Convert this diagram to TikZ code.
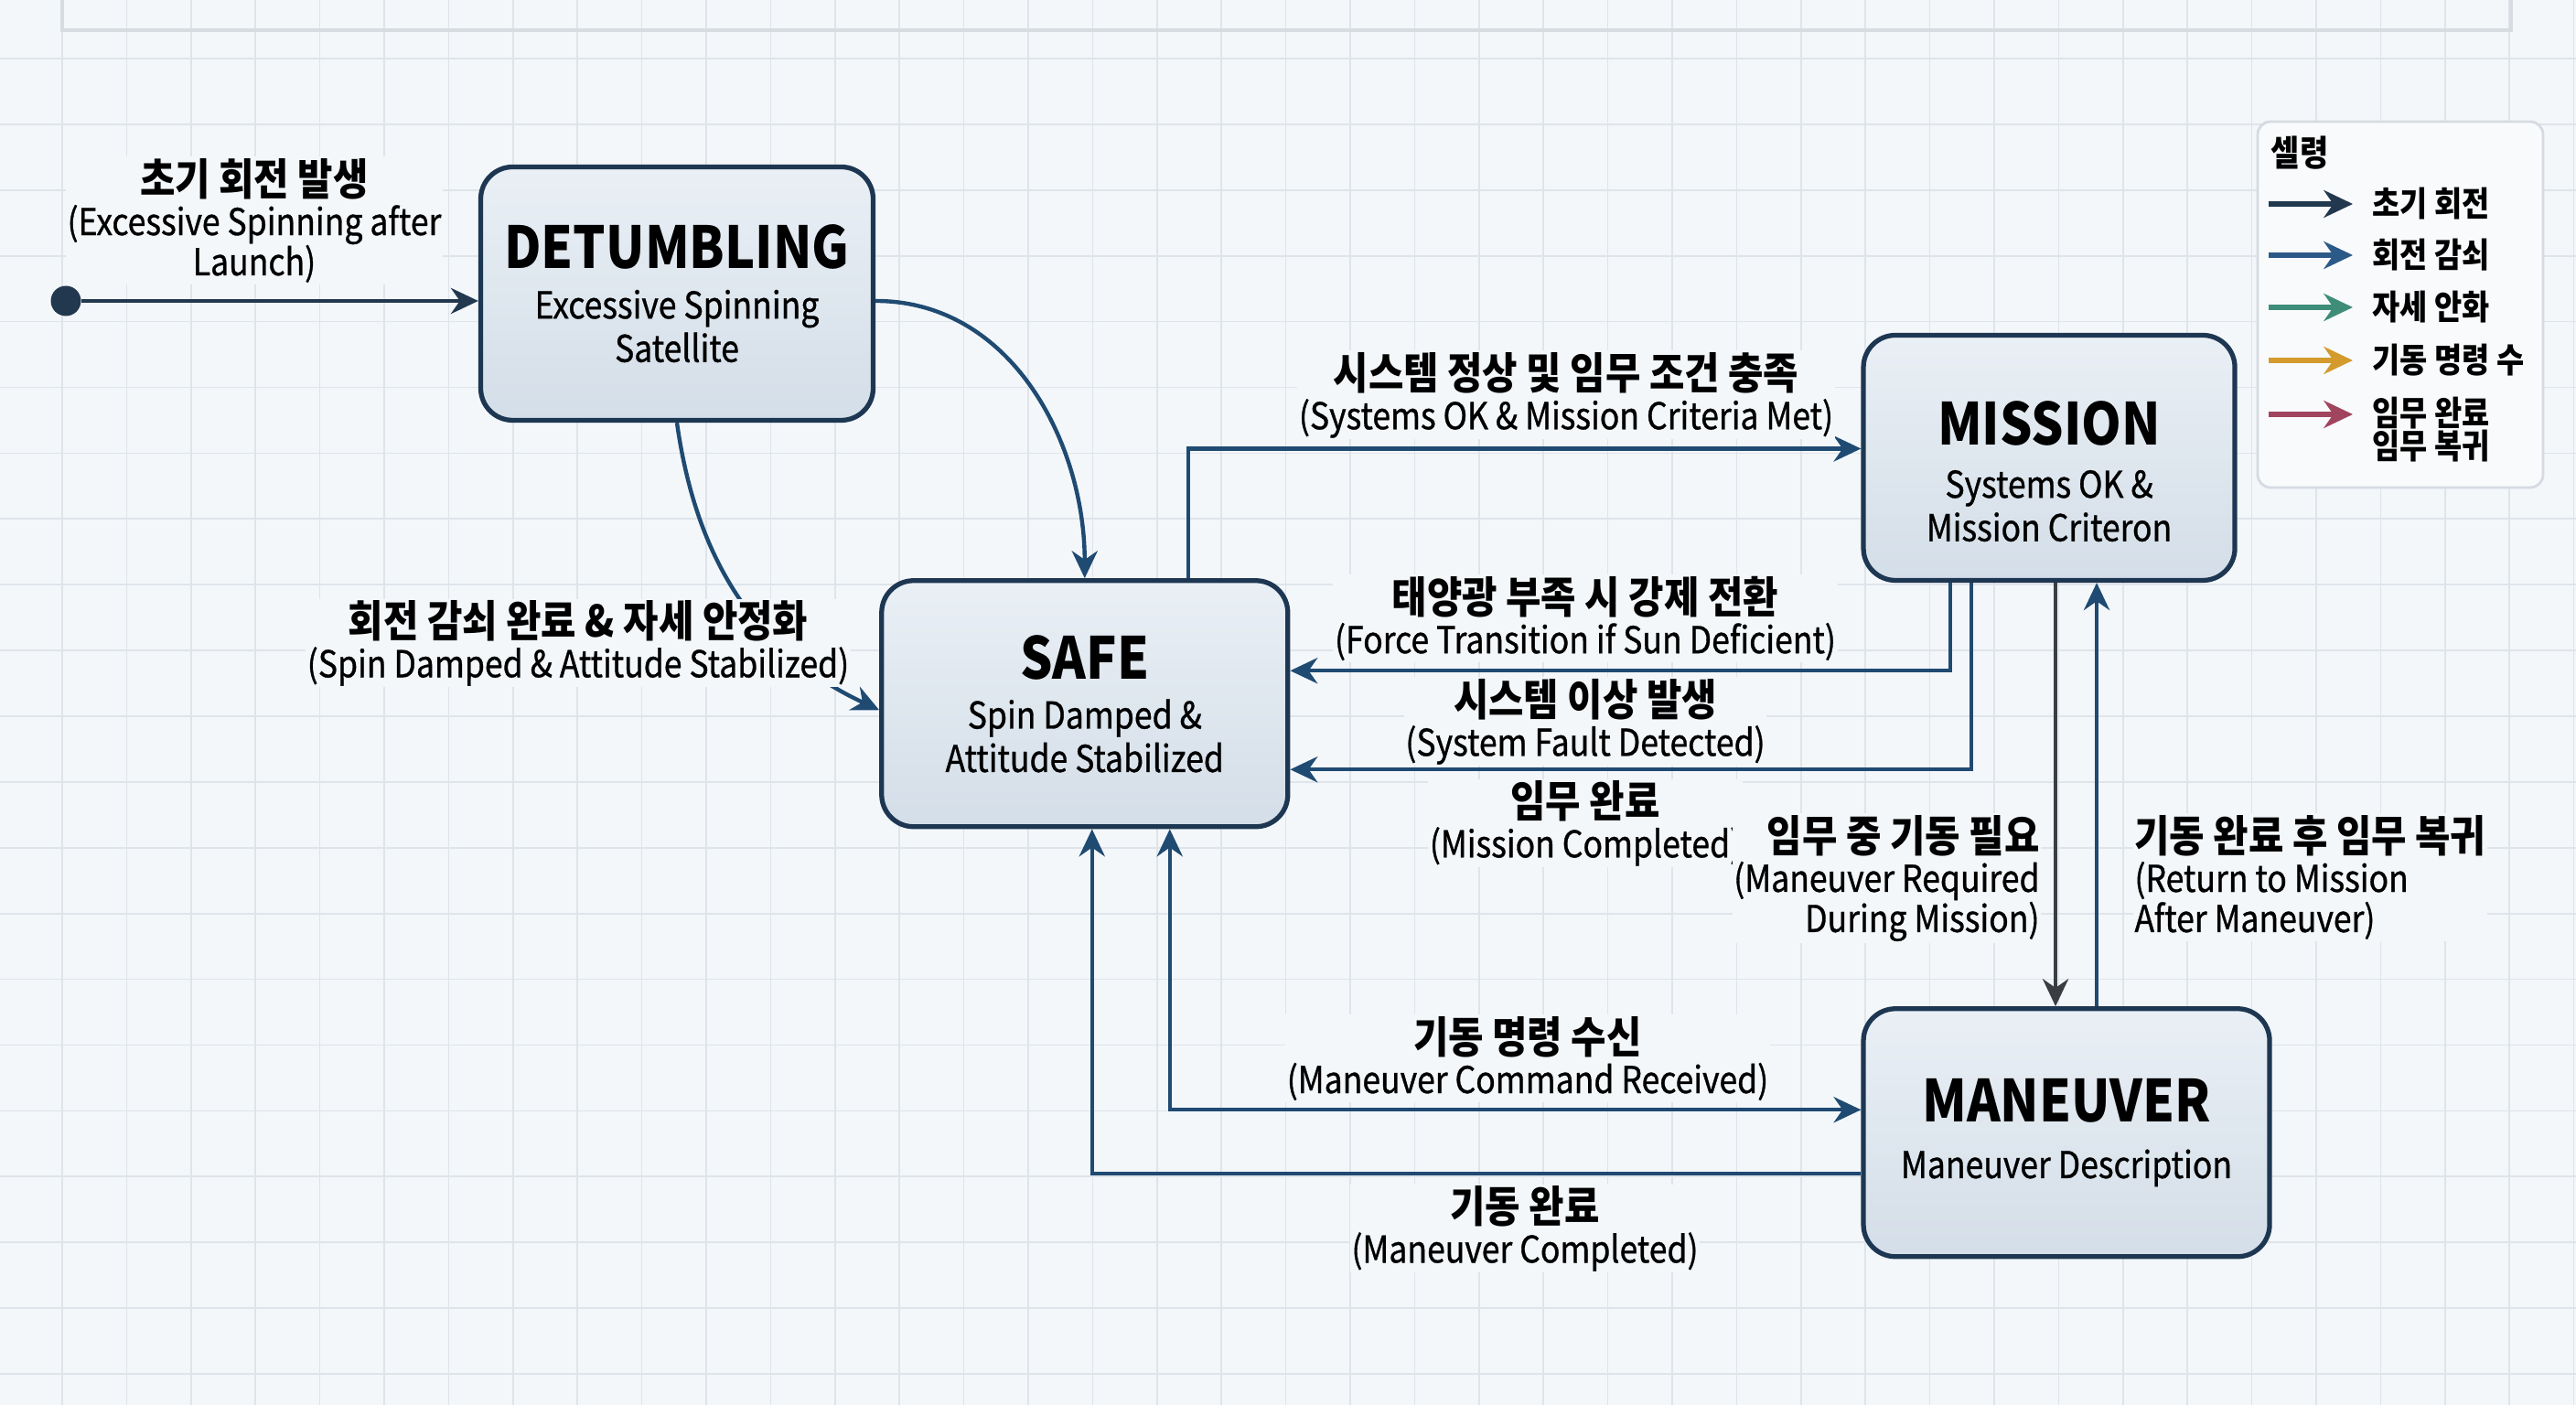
\documentclass[tikz,border=0pt]{standalone}
\usepackage{fontspec}
\setmainfont{Noto Sans CJK KR}[FakeStretch=0.88, UprightFeatures={FakeBold=0.8}]
\usepackage{tikz}
\usetikzlibrary{arrows.meta,positioning,calc}

\definecolor{paper}{HTML}{F3F7FA}
\definecolor{gridc}{HTML}{DFE4EA}
\definecolor{boxline}{HTML}{1D3752}
\definecolor{boxtop}{HTML}{E9EFF5}
\definecolor{boxbot}{HTML}{D4DEE8}
\definecolor{flowblue}{HTML}{1F4A72}
\definecolor{initnavy}{HTML}{22384F}
\definecolor{flowgray}{HTML}{3A3D42}
\definecolor{legblue}{HTML}{2C5A88}
\definecolor{legteal}{HTML}{3E8D78}
\definecolor{legamber}{HTML}{D39A2C}
\definecolor{legrose}{HTML}{A1455F}
\definecolor{legframe}{HTML}{D6DBE2}

\newcommand{\modename}[1]{{\fontsize{18}{20}\selectfont\bfseries #1}}
\newcommand{\krline}[1]{{\fontsize{13.5}{15}\selectfont\bfseries #1}}

\begin{document}
\begin{tikzpicture}[
    node distance=1cm and 1cm,
    modebox/.style={draw=boxline, rectangle, rounded corners=0.35cm, top color=boxtop, bottom color=boxbot, line width=1.5pt, inner sep=2pt, align=center, font=\fontsize{11.5}{13.5}\selectfont},
    lbl/.style={fill=paper, inner sep=0.5pt, align=center, font=\fontsize{11.5}{12.5}\selectfont},
    initdot/.style={circle, fill=initnavy, minimum size=0.33cm, inner sep=0pt},
    flow/.style={->, >={Stealth[length=8.5pt,width=8pt]}, line width=1.25pt, color=flowblue},
    legbox/.style={draw=legframe, rectangle, rounded corners=4pt, fill=paper!60!white, line width=0.8pt},
    legtxt/.style={inner sep=0pt, align=left, font=\fontsize{10.6}{10.2}\selectfont\bfseries},
    legarrow/.style={->, >={Stealth[length=9pt,width=8.5pt]}, line width=1.5pt}
]

% paper and grid
\useasboundingbox (0,0) rectangle (28.16,15.36);
\fill[paper] (0,0) rectangle (28.16,15.36);
\begin{scope}[shift={(-0.024,0.34)}]
  \draw[gridc, line width=0.5pt, xstep=0.704cm, ystep=0.719cm] (0,-0.5) grid (28.3,15.1);
\end{scope}
\draw[gridc!92!gray, line width=0.9pt] (0.68,15.36) -- (0.68,15.03) -- (27.45,15.03) -- (27.45,15.36);

% modes
\node[modebox, minimum width=4.29cm, minimum height=2.77cm] (det) at (7.40,12.15) {
    \modename{DETUMBLING}\\[2pt]
    Excessive Spinning\\
    Satellite
};
\node[modebox, minimum width=4.44cm, minimum height=2.69cm, below right=1.70cm and 0.04cm of det.south east] (safe) {
    \modename{SAFE}\\[2pt]
    Spin Damped \&\\
    Attitude Stabilized
};
\node[modebox, minimum width=4.06cm, minimum height=2.68cm, above right=-0.05cm and 6.24cm of safe.north east] (mission) {
    \rule{0pt}{22pt}\modename{MISSION}\\[3pt]
    Systems OK \&\\
    Mission Criteron
};
\node[modebox, minimum width=4.44cm, minimum height=2.71cm, below right=4.63cm and 0cm of mission.south west] (maneuver) {
    \modename{MANEUVER}\\[4pt]
    Maneuver Description
};

% initial state
\node[initdot] (init) at (0.72,12.07) {};
\draw[flow, color=initnavy] (init) -- (init -| det.west);

% transitions
\draw[flow] ([yshift=-0.08cm]det.east) to[out=0, in=90] (safe.north);
\draw[flow] (det.south) to[out=-82, in=155] ([yshift=-0.07cm]safe.west);
\draw[flow] ([xshift=1.13cm]safe.north) |- ([yshift=0.1cm]mission.west);
\draw[flow] ([xshift=-1.08cm]mission.south) |- ([yshift=0.36cm]safe.east);
\draw[flow] ([xshift=-0.85cm]mission.south) |- ([yshift=-0.72cm]safe.east);
\draw[flow, color=flowgray] ([xshift=0.07cm]mission.south) -- ([xshift=0.07cm]mission.south |- maneuver.north);
\draw[flow] ([xshift=0.33cm]maneuver.north) -- ([xshift=0.33cm]maneuver.north |- mission.south);
\draw[flow, <->] ([xshift=0.93cm]safe.south) |- ([yshift=0.25cm]maneuver.west);
\draw[flow] ([yshift=-0.45cm]maneuver.west) -| ([xshift=0.08cm]safe.south);

% transition labels
\node[lbl] (lblinit) at (2.78,12.95) {\krline{초기 회전 발생}\\(Excessive Spinning after\\Launch)};
\node[lbl] (lblds) at (6.32,8.33) {\krline{회전 감쇠 완료 \& 자세 안정화}\\(Spin Damped \& Attitude Stabilized)};
\node[lbl] (lblsm) at (17.12,11.04) {\krline{시스템 정상 및 임무 조건 충족}\\(Systems OK \& Mission Criteria Met)};
\node[lbl] (lblforce) at (17.33,8.60) {\krline{태양광 부족 시 강제 전환}\\(Force Transition if Sun Deficient)};
\node[lbl] (lblfault) at (17.33,7.47) {\krline{시스템 이상 발생}\\(System Fault Detected)};
\node[lbl] (lbldone) at (17.33,6.36) {\krline{임무 완료}\\(Mission Completed)};
\node[lbl, anchor=east, align=right] (lblreq) at (22.32,5.76) {\krline{임무 중 기동 필요}\\(Maneuver Required\\During Mission)};
\node[lbl, anchor=west, align=left] (lblret) at (23.31,5.77) {\krline{기동 완료 후 임무 복귀}\\(Return to Mission\\After Maneuver)};
\node[lbl] (lblcmd) at (16.70,3.79) {\krline{기동 명령 수신}\\(Maneuver Command Received)};
\node[lbl] (lblmd) at (16.67,1.93) {\krline{기동 완료}\\(Maneuver Completed)};

% legend
\node[legbox, minimum width=3.12cm, minimum height=4.0cm] (legend) at (26.24,12.03) {};
\node[legtxt, anchor=west, font=\fontsize{11}{11}\selectfont\bfseries] (legtitle) at (24.82,13.69) {셀령};
\coordinate (a1) at (24.80,13.13);
\coordinate (a2) at (24.80,12.57);
\coordinate (a3) at (24.80,12.00);
\coordinate (a4) at (24.80,11.42);
\coordinate (a5) at (24.80,10.83);
\node[legtxt, anchor=west] (t1) at (25.93,13.13) {초기 회전};
\node[legtxt, anchor=west] (t2) at (25.93,12.57) {회전 감쇠};
\node[legtxt, anchor=west] (t3) at (25.93,12.00) {자세 안화};
\node[legtxt, anchor=west] (t4) at (25.93,11.42) {기동 명령 수};
\node[legtxt, anchor=west] (t5) at (25.93,10.66) {임무 완료\\임무 복귀};
\draw[legarrow, color=initnavy, shorten >=0.21cm] (a1) -- (a1 -| t1.west);
\draw[legarrow, color=legblue, shorten >=0.21cm] (a2) -- (a2 -| t2.west);
\draw[legarrow, color=legteal, shorten >=0.21cm] (a3) -- (a3 -| t3.west);
\draw[legarrow, color=legamber, shorten >=0.21cm] (a4) -- (a4 -| t4.west);
\draw[legarrow, color=legrose, shorten >=0.21cm] (a5) -- (a5 -| t5.west);

\end{tikzpicture}
\end{document}
